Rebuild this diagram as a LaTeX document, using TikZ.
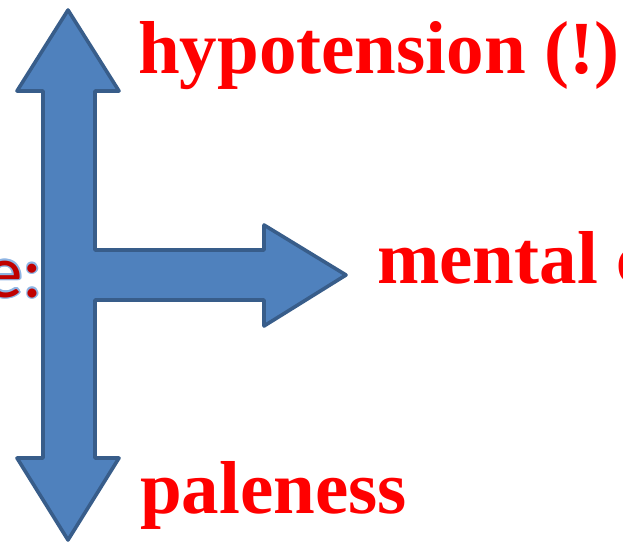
\documentclass[tikz,border=0pt]{standalone}
\usepackage{fontspec}
\usetikzlibrary{calc}
\setmainfont{Liberation Serif}
\newfontfamily\carl{Carlito}
\definecolor{arrowfill}{HTML}{4F81BD}
\definecolor{arrowline}{HTML}{385D8A}
\definecolor{darkred}{HTML}{C00000}
\definecolor{glowblue}{HTML}{8EB4E3}
\tikzset{
  bigarrow/.style={fill=arrowfill, draw=arrowline, line width=3.6pt, line join=round},
  redlabel/.style={text=red, font=\fontsize{75}{90}\selectfont\bfseries, inner sep=0pt, anchor=base west},
  leftlabel/.style={font=\carl\fontsize{75}{90}\selectfont, inner sep=0pt, anchor=base east}
}
\begin{document}
\begin{tikzpicture}[x=1pt,y=-1pt]
\useasboundingbox (0,0) rectangle (623,544);
\clip (0,0) rectangle (623,544);
% clipped left text with glow
\foreach \dx/\dy in {-1.6/0,1.6/0,0/-1.6,0/1.6,-1.1/-1.1,1.1/1.1,-1.1/1.1,1.1/-1.1}{
  \node[leftlabel, text=glowblue] at ($(43,297)+(\dx,\dy)$) {e:};
}
\node[leftlabel, text=darkred] (lefttext) at (43,297) {e:};
% combined arrow shape
\draw[bigarrow] (68,10) -- (119,91) -- (95,91) -- (95,250) -- (264,250) -- (264,225)
  -- (346,275) -- (264,326) -- (264,300) -- (95,300) -- (95,458) -- (119,458)
  -- (68,540) -- (17,458) -- (43,458) -- (43,91) -- (17,91) -- cycle;
\node[redlabel] (top) at (138,73) {hypotension (!)};
\node[redlabel] (mid) at (377,283) {mental c};
\node[redlabel] (bot) at (140,513) {paleness};
\end{tikzpicture}
\end{document}
